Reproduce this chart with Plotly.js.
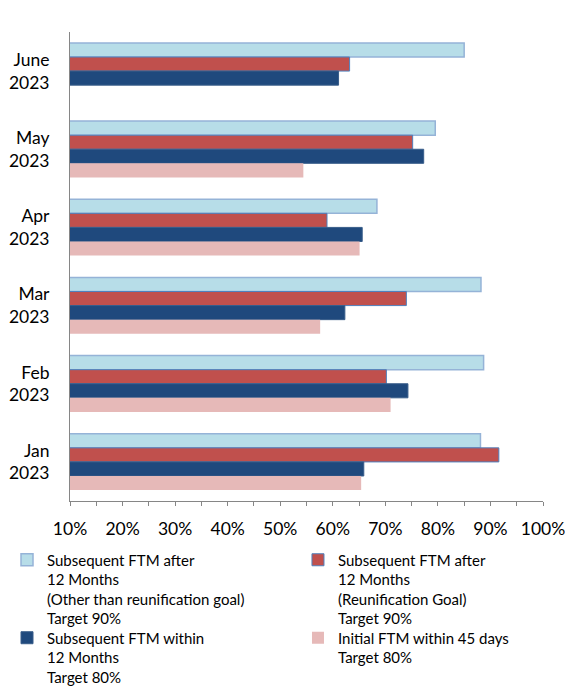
<!DOCTYPE html>
<html>
<head>
<meta charset="utf-8">
<script src="https://cdn.plot.ly/plotly-3.0.1.min.js"></script>
<style>html,body{margin:0;padding:0;background:#fff;}#chart{width:565px;height:690px;}</style>
</head>
<body>
<div id="chart"></div>
<script>
// Categories (top to bottom)
const months = ["June<br>2023", "May<br>2023", "Apr<br>2023", "Mar<br>2023", "Feb<br>2023", "Jan<br>2023"];

// Series values (%), same order as months
const afterOther = [85.0, 79.5, 68.4, 88.2, 88.7, 88.1];
const afterReunif = [63.2, 75.2, 58.9, 74.0, 70.2, 91.6];
const within12 = [61.1, 77.3, 65.6, 62.3, 74.3, 65.9];
const initial45 = [null, 54.4, 65.1, 57.6, 71.0, 65.4];

// Legend names
const names = [
  "Subsequent FTM after<br>12 Months<br>(Other than reunification goal)<br>Target 90%",
  "Subsequent FTM after<br>12 Months<br>(Reunification Goal)<br>Target 90%",
  "Subsequent FTM within<br>12 Months<br>Target 80%",
  "Initial FTM within 45 days<br>Target 80%"
];

const styles = [
  {color: "#B7DDE8", line: {color: "#95B3D7", width: 1.5}},
  {color: "#C0504D", line: {color: "#4F81BD", width: 1}},
  {color: "#1F497D", line: {color: "#385D8A", width: 1}},
  {color: "#E6B9B8", line: {color: "#E6B9B8", width: 0}}
];

const series = [afterOther, afterReunif, within12, initial45];
const legendIds = ["legend", "legend2", "legend3", "legend4"];

const data = series.map((vals, i) => ({
  type: "bar",
  orientation: "h",
  y: months,
  x: vals,
  name: names[i],
  marker: styles[i],
  legend: legendIds[i],
  hoverinfo: "x+name"
}));

const font = "Lato, 'Open Sans', sans-serif";
const legendFont = {family: font, size: 15, color: "#000000"};

function legendAt(x, y) {
  return {
    orientation: "v",
    xref: "container", yref: "container",
    x: x, xanchor: "left",
    y: y, yanchor: "top",
    valign: "top",
    bgcolor: "rgba(0,0,0,0)",
    borderwidth: 0,
    itemwidth: 30,
    font: legendFont
  };
}

const layout = {
  width: 565,
  height: 690,
  margin: {l: 69.5, r: 22, t: 32, b: 189, autoexpand: false},
  paper_bgcolor: "#ffffff",
  plot_bgcolor: "#ffffff",
  barmode: "group",
  bargap: 0.28,
  bargroupgap: 0,
  font: {family: font, size: 17.5, color: "#000000"},
  xaxis: {
    range: [10, 100],
    tick0: 10,
    dtick: 10,
    ticksuffix: "%",
    showgrid: false,
    zeroline: false,
    showline: true,
    linecolor: "#868686",
    linewidth: 1,
    ticks: "outside",
    ticklen: 4,
    tickcolor: "#868686",
    minor: {dtick: 5, tick0: 10, ticks: "outside", ticklen: 4, tickcolor: "#868686", showgrid: false},
    ticklabelstandoff: 8,
    ticklabeloverflow: "allow",
    automargin: false,
    tickfont: {family: font, size: 17.5, color: "#000000"},
    fixedrange: true
  },
  yaxis: {
    type: "category",
    autorange: "reversed",
    showgrid: false,
    zeroline: false,
    showline: true,
    linecolor: "#868686",
    linewidth: 1,
    ticks: "",
    ticklabelstandoff: 16,
    automargin: false,
    tickfont: {family: font, size: 17.5, color: "#000000"},
    fixedrange: true
  },
  showlegend: true,
  legend: legendAt(0.0124, 0.2123),
  legend2: legendAt(0.5274, 0.2123),
  legend3: legendAt(0.0124, 0.0993),
  legend4: legendAt(0.5274, 0.0993)
};

Plotly.newPlot("chart", data, layout, {displayModeBar: false, staticPlot: true});
</script>
</body>
</html>
